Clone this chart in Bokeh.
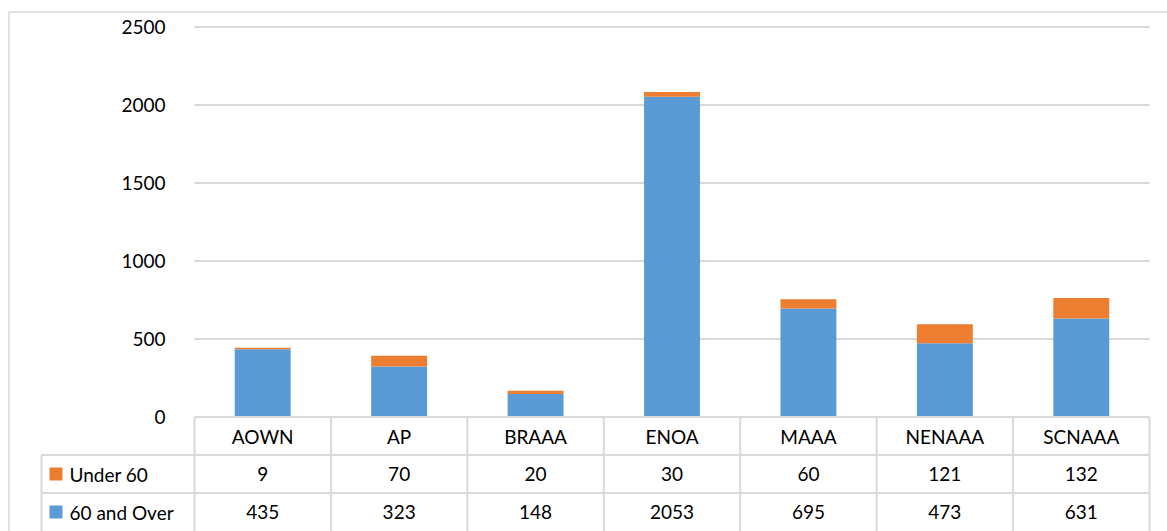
from bokeh.plotting import figure
from bokeh.models import Range1d, ColumnDataSource
from bokeh.core.properties import value
from bokeh.embed import file_html
from bokeh.resources import INLINE

# ---- data ----
categories = ["AOWN", "AP", "BRAAA", "ENOA", "MAAA", "NENAAA", "SCNAAA"]
under_60 = [9, 70, 20, 30, 60, 121, 132]
over_60 = [435, 323, 148, 2053, 695, 473, 631]
series_names = ["Under 60", "60 and Over"]
y_ticks = [0, 500, 1000, 1500, 2000, 2500]

BLUE = "#5B9BD5"
ORANGE = "#ED7D31"
GRID = "#d9d9d9"
FONT = "Lato"
FS = "19px"

# ---- layout (canvas pixels) ----
W, H = 1167, 531
plot_left, plot_right = 194.0, 1149.0      # category area
zero_px, top_px = 416.5, 26.5              # y pixel of 0 and of 2500
n = len(categories)
xs = (plot_right - plot_left) / n          # px per category
ys = (zero_px - top_px) / 2500.0           # px per unit

def dx(px):
    return (px - plot_left) / xs

def dy(py):
    return (zero_px - py) / ys

p = figure(width=W, height=H, output_backend="svg", toolbar_location=None,
           x_axis_type=None, y_axis_type=None, min_border=0,
           x_range=Range1d(dx(0), dx(W)), y_range=Range1d(dy(H), dy(0)))
p.outline_line_color = None
p.xgrid.visible = False
p.ygrid.visible = False
p.background_fill_color = "white"
p.border_fill_color = "white"

# outer chart border (left & top visible)
p.segment(x0=[dx(8.5), dx(8.5)], y0=[dy(11.5), dy(11.5)],
          x1=[dx(8.5), dx(W)], y1=[dy(H), dy(11.5)],
          line_color=GRID, line_width=1.5)

# gridlines
gl = y_ticks[1:]
p.segment(x0=[0] * len(gl), y0=gl, x1=[n] * len(gl), y1=gl,
          line_color=GRID, line_width=2)

# y tick labels
p.text(x=[dx(plot_left - 29)] * len(y_ticks), y=y_ticks,
       text=[str(v) for v in y_ticks], text_align="right", text_baseline="middle",
       text_font=value(FONT), text_font_size=FS, text_color="#000000")

# bars
xc = [i + 0.5 for i in range(n)]
src = ColumnDataSource(dict(x=xc, over=over_60, under=under_60))
p.vbar_stack(["over", "under"], x="x", width=0.41, color=[BLUE, ORANGE],
             line_color=None, source=src)

# ---- data table ----
row_h = 38.0 / ys
rows_y = [0, -row_h, -2 * row_h, -3 * row_h]
label_left = dx(41)

# horizontal lines
p.segment(x0=[0, label_left, label_left], y0=rows_y[:3],
          x1=[n, n, n], y1=rows_y[:3], line_color=GRID, line_width=2)
# vertical lines
vx = list(range(n + 1))
p.segment(x0=vx, y0=[0] * len(vx), x1=vx, y1=[dy(H)] * len(vx),
          line_color=GRID, line_width=2)
p.segment(x0=[label_left], y0=[rows_y[1]], x1=[label_left], y1=[dy(H)],
          line_color=GRID, line_width=2)

row_c = [(rows_y[i] + rows_y[i + 1]) / 2 for i in range(3)]
p.text(x=xc, y=[row_c[0]] * n, text=categories, text_align="center",
       text_baseline="middle", text_font=value(FONT), text_font_size=FS,
       text_color="#000000")
p.text(x=xc, y=[row_c[1]] * n, text=[str(v) for v in under_60],
       text_align="center", text_baseline="middle", text_font=value(FONT),
       text_font_size=FS, text_color="#000000")
p.text(x=xc, y=[row_c[2]] * n, text=[str(v) for v in over_60],
       text_align="center", text_baseline="middle", text_font=value(FONT),
       text_font_size=FS, text_color="#000000")

# legend keys inside table
p.scatter(x=[dx(55.5), dx(55.5)], y=[row_c[1], row_c[2]], marker="square",
          size=13, fill_color=[ORANGE, BLUE], line_color=None)
p.text(x=[dx(69), dx(69)], y=[row_c[1], row_c[2]], text=series_names,
       text_align="left", text_baseline="middle", text_font=value(FONT),
       text_font_size=FS, text_color="#000000")

open("out.html", "w").write(file_html(p, INLINE))
